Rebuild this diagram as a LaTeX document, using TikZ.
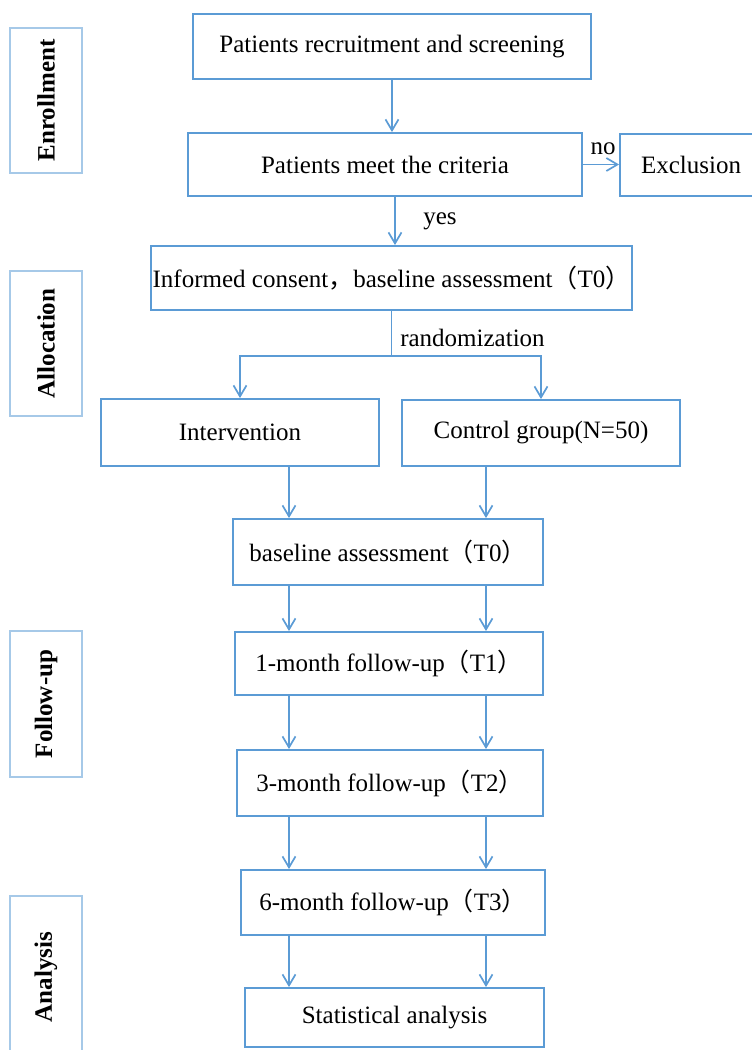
\documentclass[tikz,border=0pt]{standalone}
\usepackage{fontspec}
\setmainfont{Liberation Serif}
\newfontfamily\cjkf{Noto Sans CJK SC}
\usetikzlibrary{arrows.meta}
\definecolor{mainblue}{RGB}{91,155,213}
\definecolor{sideblue}{RGB}{166,201,232}
\newcommand{\flp}{{\cjkf （}}
\newcommand{\frp}{{\cjkf ）}}
\newcommand{\fcm}{{\cjkf ，}}
\begin{document}
\begin{tikzpicture}[x=1pt,y=-1pt,
  font=\fontsize{25}{30}\selectfont,
  box/.style={draw=mainblue, line width=1.9pt, rectangle, inner sep=0pt, align=center},
  side/.style={draw=sideblue, line width=1.3pt, rectangle, inner sep=0pt, minimum width=72pt},
  sidelabel/.style={rotate=90, inner sep=0pt, font=\fontsize{25}{30}\selectfont\bfseries},
  arr/.style={draw=mainblue, line width=1.7pt, -{Straight Barb[length=11pt,width=13pt]}},
  lbl/.style={inner sep=0pt}]
\useasboundingbox (0,0) rectangle (752,1050);

% side phase boxes
\node[side, minimum height=145pt] (enroll) at (46,100.5) {};
\node[sidelabel] (enrollL) at (enroll.center) {Enrollment};
\node[side, minimum height=145pt] (alloc) at (46,343.5) {};
\node[sidelabel] (allocL) at (alloc.center) {Allocation};
\node[side, minimum height=146pt] (follow) at (46,704) {};
\node[sidelabel] (followL) at (follow.center) {Follow-up};
\node[side, minimum height=164pt] (analysis) at (46,978) {};
\node[sidelabel] (analysisL) at (46,977) {Analysis};

% main boxes
\node[box, minimum width=398pt, minimum height=65pt] (recruit) at (392,46.5) {Patients recruitment and screening};
\node[box, minimum width=394pt, minimum height=63pt] (criteria) at (385,164.5) {Patients meet the criteria};
\node[box, minimum width=142pt, minimum height=62pt] (exclusion) at (691,165) {Exclusion};
\node[box, minimum width=481pt, minimum height=64pt] (informed) at (391.5,278) {Informed consent\fcm baseline assessment\flp T0\frp};
\node[box, minimum width=278pt, minimum height=67pt] (interv) at (240,432.5) {Intervention};
\node[box, minimum width=278pt, minimum height=66pt] (control) at (541,433) {Control group(N=50)};
\node[box, minimum width=310pt, minimum height=66pt] (base) at (388,552) {baseline assessment\flp T0\frp};
\node[box, minimum width=308pt, minimum height=63pt] (m1) at (389,663.5) {1-month follow-up\flp T1\frp};
\node[box, minimum width=306pt, minimum height=66pt] (m3) at (390,783) {3-month follow-up\flp T2\frp};
\node[box, minimum width=304pt, minimum height=65pt] (m6) at (393,902.5) {6-month follow-up\flp T3\frp};
\node[box, minimum width=299pt, minimum height=59pt] (stat) at (394.5,1017.5) {Statistical analysis};

% column coordinates
\coordinate (yx) at (395,0);
\coordinate (lx) at (289,0);
\coordinate (rx) at (486,0);

% connectors
\draw[arr] (recruit.south) -- (recruit.south |- criteria.north);
\draw[arr] (criteria.south -| yx) -- (informed.north -| yx);
\draw[arr] (criteria.east) -- (exclusion.west |- criteria.east);
\draw[arr] (informed.south) -- ++(0,45) -| (interv.north);
\draw[arr] (informed.south) -- ++(0,45) -| (control.north);
\draw[arr] (interv.south -| lx) -- (base.north -| lx);
\draw[arr] (control.south -| rx) -- (base.north -| rx);
\draw[arr] (base.south -| lx) -- (m1.north -| lx);
\draw[arr] (base.south -| rx) -- (m1.north -| rx);
\draw[arr] (m1.south -| lx) -- (m3.north -| lx);
\draw[arr] (m1.south -| rx) -- (m3.north -| rx);
\draw[arr] (m3.south -| lx) -- (m6.north -| lx);
\draw[arr] (m3.south -| rx) -- (m6.north -| rx);
\draw[arr] (m6.south -| lx) -- (stat.north -| lx);
\draw[arr] (m6.south -| rx) -- (stat.north -| rx);

% labels
\node[lbl] (nolbl) at (603,148.5) {no};
\node[lbl] (yeslbl) at (440,221) {yes};
\node[lbl] (randlbl) at (472.5,337.5) {randomization};
\end{tikzpicture}
\end{document}
